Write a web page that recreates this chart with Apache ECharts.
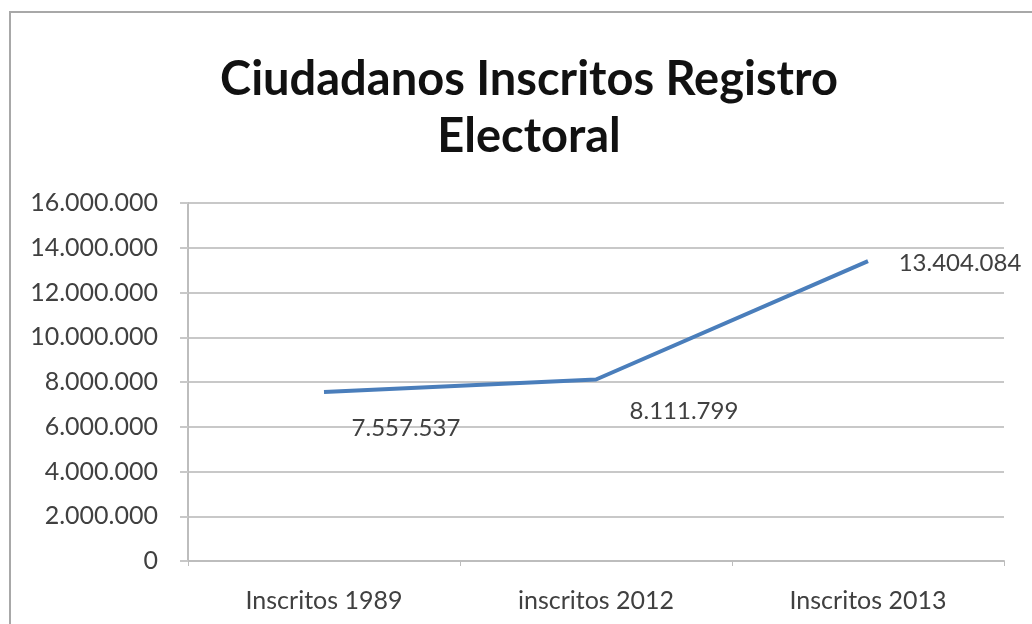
<!DOCTYPE html>
<html><head><meta charset="utf-8">
<script src="https://cdn.jsdelivr.net/npm/echarts@6/dist/echarts.min.js"></script>
<style>html,body{margin:0;padding:0;background:#fff}#c{width:1032px;height:624px}</style>
</head><body><div id="c"></div>
<script>
const categories = ['Inscritos 1989', 'inscritos 2012', 'Inscritos 2013'];
const values = [7557537, 8111799, 13404084];
const labelOffsets = [[82, 36], [88, 32], [92, 2]];
const yMin = 0, yMax = 16000000, yStep = 2000000;

function fmt(v){ return String(Math.round(v)).replace(/\B(?=(\d{3})+(?!\d))/g, '.'); }

const font = 'Lato, "Open Sans", sans-serif';
const chart = echarts.init(document.getElementById('c'));
chart.setOption({
  animation: false,
  backgroundColor: '#fff',
  graphic: [{type:'rect', shape:{x:10, y:12, width:1100, height:700}, style:{fill:'none', stroke:'#a8a8a8', lineWidth:2}, silent:true}],
  title: {
    text: 'Ciudadanos Inscritos Registro\nElectoral',
    left: 524, textAlign: 'center', top: 46,
    textStyle: {fontFamily: font, fontWeight: 'bold', fontSize: 47, color: '#111', lineHeight: 57}
  },
  grid: {left: 188, right: 28, top: 203, bottom: 63, containLabel: false},
  xAxis: {
    type: 'category', data: categories, boundaryGap: true,
    axisLine: {lineStyle: {color: '#bdbdbd', width: 2}},
    axisTick: {show: true, length: 5, lineStyle: {color: '#bdbdbd'}},
    axisLabel: {fontFamily: font, fontSize: 25, color: '#404040', margin: 27}
  },
  yAxis: {
    type: 'value', min: yMin, max: yMax, interval: yStep,
    axisLine: {show: true, lineStyle: {color: '#bdbdbd', width: 2}},
    axisTick: {show: true, length: 8, lineStyle: {color: '#c8c8c8', width: 2}},
    splitLine: {lineStyle: {color: '#c8c8c8', width: 2}},
    axisLabel: {fontFamily: font, fontSize: 25, color: '#404040', margin: 30, formatter: fmt}
  },
  series: [{
    type: 'line', showSymbol: true, symbol: 'circle', symbolSize: 2,
    lineStyle: {color: '#4a7ebb', width: 4},
    itemStyle: {color: 'rgba(0,0,0,0)', borderWidth: 0},
    data: values.map((v, i) => ({value: v, label: {show: true, position: 'inside', offset: labelOffsets[i]}})),
    label: {show: true, fontFamily: font, fontSize: 24, color: '#404040', formatter: p => fmt(p.value)}
  }]
});
</script></body></html>
